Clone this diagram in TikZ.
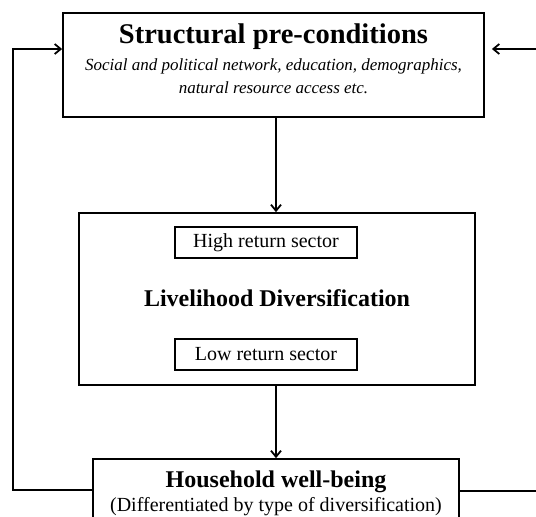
\documentclass[tikz,border=0pt]{standalone}
\usepackage{fontspec}
\setmainfont{Liberation Serif}
\usetikzlibrary{positioning,calc,arrows.meta}

\tikzset{
  bigbox/.style={draw,line width=1.8pt,inner sep=0pt},
  smallbox/.style={draw,line width=1.2pt,inner sep=0pt,minimum width=182pt,minimum height=31pt,
                   font=\fontsize{20}{22}\selectfont},
  headtext/.style={inner sep=0pt,font=\fontsize{28.5}{30}\selectfont\bfseries},
  boldtext/.style={inner sep=0pt,font=\fontsize{24}{26}\selectfont\bfseries},
  notetext/.style={inner sep=0pt,align=center,font=\fontsize{17}{23}\selectfont\itshape},
  plaintext/.style={inner sep=0pt,font=\fontsize{20}{22}\selectfont},
  flow/.style={line width=1.8pt,-{Straight Barb[length=6pt,width=10pt]}}
}

\begin{document}
\begin{tikzpicture}[x=1pt,y=-1pt,line cap=butt,line join=miter]
  \useasboundingbox (0,0) rectangle (536,517);
  \clip (0,0) rectangle (536,517);

  %--- Structural pre-conditions ------------------------------------------
  \node[bigbox,minimum width=421pt,minimum height=104pt] (pre) at (273.5,65) {};
  \node[headtext] (preT) at (273.5,37) {Structural pre-conditions};
  \node[notetext] (preN) at (273.5,76.5)
       {Social and political network, education, demographics,\\natural resource access etc.};

  %--- Livelihood diversification -----------------------------------------
  \node[bigbox,minimum width=396pt,minimum height=172pt] (div) at (277,299) {};
  \node[smallbox] (high) at (266,242.5) {High return sector};
  \node[boldtext] (divT) at (277,298) {Livelihood Diversification};
  \node[smallbox] (low) at (266,354.5) {Low return sector};

  %--- Household well-being -----------------------------------------------
  \node[bigbox,minimum width=366pt,minimum height=100pt] (hh) at (276,509) {};
  \node[boldtext] (hhT) at (276,482) {Household well-being};
  \node[plaintext] (hhN) at (276,507) {(Differentiated by type of diversification)};

  % Main flow
  \draw[flow] (pre.south -| hh.north) -- (div.north -| hh.north);
  \draw[flow] (div.south -| hh.north) -- (hh.north);

  % Feedback loops
  \coordinate (L1) at (13,490);
  \coordinate (L2) at (13,49);
  \coordinate (R1) at (548,491);
  \coordinate (R2) at (548,49);
  \draw[flow] (hh.west |- L1) -- (L1) -- (L2) -- (pre.west |- L2);
  \draw[flow] (hh.east |- R1) -- (R1) -- (R2) -- ([xshift=7pt]pre.east |- R2);
\end{tikzpicture}
\end{document}
